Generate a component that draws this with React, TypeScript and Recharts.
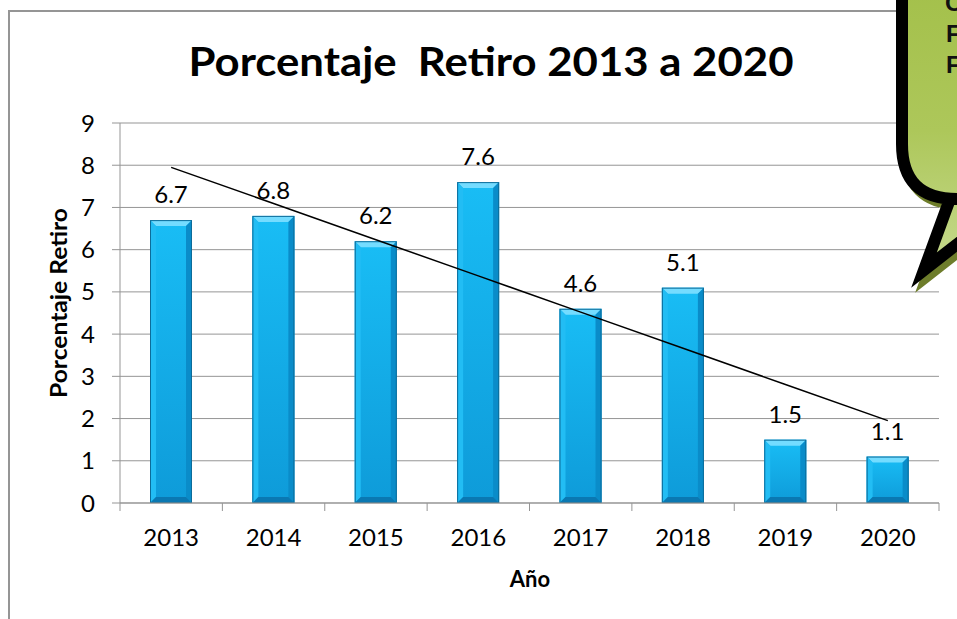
import React from 'react';
import {
  Bar,
  BarChart,
  CartesianGrid,
  LabelList,
  Line,
  XAxis,
  YAxis,
} from 'recharts';

// Porcentaje de retiro por año, con línea de tendencia lineal (como Excel).

const years = ['2013', '2014', '2015', '2016', '2017', '2018', '2019', '2020'];
const retiro = [6.7, 6.8, 6.2, 7.6, 4.6, 5.1, 1.5, 1.1];
const yTicks = [0, 1, 2, 3, 4, 5, 6, 7, 8, 9];

const W = 957;
const H = 619;
const PLOT_LEFT = 120;
const PLOT_RIGHT = 939;
const PLOT_TOP = 123;
const PLOT_BOTTOM = 503;
const BAND = (PLOT_RIGHT - PLOT_LEFT) / years.length;
const GRAY = '#959595';
const FONT = 'Lato, "Open Sans", sans-serif';

// least-squares fit over x = 1..n, same as Excel's linear trendline
function linearTrend(values: number[]) {
  const n = values.length;
  const xs = values.map((_, i) => i + 1);
  const mx = xs.reduce((a, b) => a + b, 0) / n;
  const my = values.reduce((a, b) => a + b, 0) / n;
  let sxy = 0;
  let sxx = 0;
  xs.forEach((x, i) => {
    sxy += (x - mx) * (values[i] - my);
    sxx += (x - mx) * (x - mx);
  });
  const slope = sxy / sxx;
  return xs.map((x) => my + slope * (x - mx));
}

const trend = linearTrend(retiro);
const rows = years.map((year, i) => ({ year, retiro: retiro[i], trend: trend[i] }));

function BevelBar(props: any) {
  const { x, y, width: w, height: h } = props;
  if (!w || !h) return null;
  const b = Math.min(6, h / 2);
  return (
    <g>
      <rect x={x} y={y} width={w} height={h} fill="url(#barBody)" />
      <polygon
        points={`${x},${y} ${x + w},${y} ${x + w - b},${y + b} ${x + b},${y + b}`}
        fill="#74dcff"
      />
      <polygon
        points={`${x},${y} ${x + b},${y + b} ${x + b},${y + h - b} ${x},${y + h}`}
        fill="#22bdf4"
      />
      <polygon
        points={`${x + w},${y} ${x + w},${y + h} ${x + w - b},${y + h - b} ${x + w - b},${y + b}`}
        fill="#0a8cc9"
      />
      <polygon
        points={`${x},${y + h} ${x + w},${y + h} ${x + w - b},${y + h - b} ${x + b},${y + h - b}`}
        fill="#0a78b2"
      />
      <rect x={x + 0.5} y={y + 0.5} width={w - 1} height={h - 1} fill="none" stroke="#0c6c9a" />
    </g>
  );
}

function XTick(props: any) {
  const { x, y, payload } = props;
  const last = payload.value === years[years.length - 1];
  return (
    <g>
      <line x1={x - BAND / 2} x2={x - BAND / 2} y1={PLOT_BOTTOM} y2={PLOT_BOTTOM + 8} stroke={GRAY} />
      {last && (
        <line x1={x + BAND / 2} x2={x + BAND / 2} y1={PLOT_BOTTOM} y2={PLOT_BOTTOM + 8} stroke={GRAY} />
      )}
      <text x={x} y={y} dy="0.71em" textAnchor="middle" fill="#000" fontSize={24} fontFamily={FONT}>
        {payload.value}
      </text>
    </g>
  );
}

function Callout() {
  const path =
    'M 1100 -40 L 902 -40 L 902 144 Q 902 199 957 199 L 950 199 L 924 270 L 1015 199 L 1100 199 Z';
  return (
    <g>
      <defs>
        <linearGradient id="calloutFill" x1="0" y1="0" x2="0" y2="1">
          <stop offset="0%" stopColor="#a2bf48" />
          <stop offset="55%" stopColor="#adc75a" />
          <stop offset="100%" stopColor="#c6da8e" />
        </linearGradient>
      </defs>
      <path d={path} transform="translate(4,5)" fill="none" stroke="#6e7d2b" strokeWidth={12} strokeLinejoin="miter" strokeMiterlimit={10} />
      <path d={path} fill="url(#calloutFill)" stroke="#000" strokeWidth={12} strokeLinejoin="miter" strokeMiterlimit={10} />
      <g fontFamily='"Liberation Sans", Arial, sans-serif' fontWeight="bold" fontSize={24} fill="#111">
        <text x={945} y={11}>C</text>
        <text x={946} y={42}>F</text>
        <text x={946} y={73}>F</text>
      </g>
    </g>
  );
}

export default function App() {
  return (
    <div
      style={{
        position: 'fixed',
        left: 0,
        top: 0,
        width: W,
        height: H,
        overflow: 'hidden',
        background: '#fff',
        fontFamily: FONT,
      }}
    >
      <div
        style={{
          position: 'absolute',
          left: 8,
          top: 10,
          width: 1000,
          height: 700,
          border: `2px solid ${GRAY}`,
        }}
      />
      <div style={{ position: 'absolute', left: 0, top: 0 }}>
        <BarChart
          width={W}
          height={H}
          data={rows}
          margin={{ top: PLOT_TOP, right: W - PLOT_RIGHT, bottom: 0, left: 0 }}
          barSize={42}
        >
          <defs>
            <linearGradient id="barBody" x1="0" y1="0" x2="0" y2="1">
              <stop offset="0%" stopColor="#19bdf5" />
              <stop offset="100%" stopColor="#0e9bd9" />
            </linearGradient>
          </defs>
          <CartesianGrid vertical={false} stroke={GRAY} />
          <XAxis
            dataKey="year"
            height={H - PLOT_BOTTOM - PLOT_TOP + PLOT_TOP - 0}
            axisLine={{ stroke: GRAY }}
            tickLine={false}
            tickSize={8}
            tickMargin={18}
            interval={0}
            tick={<XTick />}
          />
          <YAxis
            width={PLOT_LEFT}
            domain={[0, 9]}
            ticks={yTicks}
            interval={0}
            axisLine={{ stroke: GRAY }}
            tickLine={{ stroke: GRAY }}
            tickSize={8}
            tickMargin={17}
            tick={{ fill: '#000', fontSize: 24, fontFamily: FONT }}
          />
          <Bar dataKey="retiro" shape={<BevelBar />} isAnimationActive={false}>
            <LabelList
              dataKey="retiro"
              position="top"
              offset={17}
              fill="#000"
              fontSize={24}
              fontFamily={FONT}
            />
          </Bar>
          <Line
            dataKey="trend"
            type="linear"
            stroke="#000"
            strokeWidth={1.5}
            dot={false}
            activeDot={false}
            isAnimationActive={false}
          />
        </BarChart>
      </div>
      <svg
        width={W}
        height={H}
        style={{ position: 'absolute', left: 0, top: 0, pointerEvents: 'none' }}
      >
        <text
          x={491}
          y={76}
          textAnchor="middle"
          fontFamily={FONT}
          fontWeight="bold"
          fontSize={40}
          textLength={605}
          lengthAdjust="spacingAndGlyphs"
          style={{ whiteSpace: 'pre' }}
        >
          {'Porcentaje  Retiro 2013 a 2020'}
        </text>
        <text
          transform="translate(67,303) rotate(-90)"
          textAnchor="middle"
          fontFamily={FONT}
          fontWeight="bold"
          fontSize={22}
          textLength={190}
          lengthAdjust="spacingAndGlyphs"
        >
          Porcentaje Retiro
        </text>
        <text x={530} y={587} textAnchor="middle" fontFamily={FONT} fontWeight="bold" fontSize={22}>
          Año
        </text>
        <Callout />
      </svg>
    </div>
  );
}
